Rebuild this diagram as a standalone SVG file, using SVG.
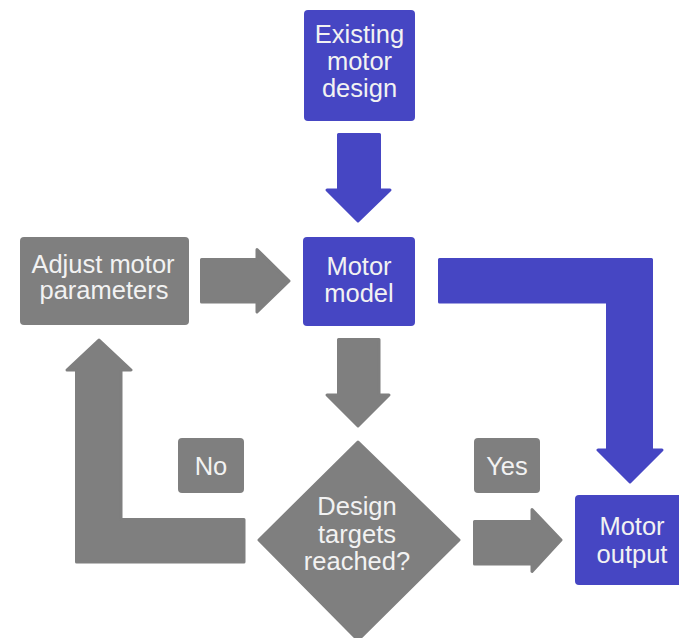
<svg xmlns="http://www.w3.org/2000/svg" width="679" height="638" viewBox="0 0 679 638">
  <style>
    .blue { fill: #4646c3; }
    .grey { fill: #7f7f7f; }
    .soft { stroke-width: 3; stroke-linejoin: round; }
    .blue.soft { stroke: #4646c3; }
    .grey.soft { stroke: #7f7f7f; }
    text { font-family: "Liberation Sans", Arial, sans-serif; font-size: 25.5px; fill: #f2f2f2; text-anchor: middle; }
  </style>
  <rect width="679" height="638" fill="#ffffff"/>

  <!-- connectors -->
  <g id="connectors">
    <!-- existing design -> model -->
    <path class="blue soft" d="M338.5,134.5 H379.5 V190 H390 L358,221 L327,190 H338.5 Z"/>
    <!-- adjust -> model -->
    <path class="grey soft" d="M201.5,259.5 H257 V249.5 L289,281 L257,312 V302 H201.5 Z"/>
    <!-- model -> output (L-shaped) -->
    <path class="blue soft" d="M439.5,259.5 H651.5 V450 H662 L630,482 L598,450 H607.5 V302 H439.5 Z"/>
    <!-- model -> decision -->
    <path class="grey soft" d="M338.5,339.5 H379 V395 H389 L358,426 L327,395 H338.5 Z"/>
    <!-- decision -> adjust (No, L-shaped) -->
    <path class="grey soft" d="M244,519.5 V562 H76.5 V370 H67 L99,340 L131,370 H121 V519.5 Z"/>
    <!-- decision -> output (Yes) -->
    <path class="grey soft" d="M474.5,521.5 H532 V509.5 L561,540 L532,571.5 V564 H474.5 Z"/>
  </g>

  <g id="existing-design">
    <rect class="blue" x="304" y="10" width="111" height="111" rx="4"/>
    <text x="359.5" y="43">Existing</text>
    <text x="359.5" y="70">motor</text>
    <text x="359.5" y="97">design</text>
  </g>

  <g id="adjust-parameters">
    <rect class="grey" x="20" y="237" width="169" height="88" rx="4"/>
    <text x="103" y="273">Adjust motor</text>
    <text x="104" y="299">parameters</text>
  </g>

  <g id="motor-model">
    <rect class="blue" x="303" y="237" width="112" height="89" rx="4"/>
    <text x="359" y="275">Motor</text>
    <text x="359" y="302">model</text>
  </g>

  <g id="decision">
    <path class="grey soft" d="M358,442 L459,540 L358,640 L259,540 Z"/>
    <text x="357" y="515">Design</text>
    <text x="357" y="543">targets</text>
    <text x="357" y="570">reached?</text>
  </g>

  <g id="label-no">
    <rect class="grey" x="178" y="438" width="66" height="55" rx="4"/>
    <text x="211" y="475">No</text>
  </g>

  <g id="label-yes">
    <rect class="grey" x="474" y="438" width="66" height="55" rx="4"/>
    <text x="507" y="475">Yes</text>
  </g>

  <g id="motor-output">
    <rect class="blue" x="575" y="495" width="114" height="90" rx="4"/>
    <text x="632" y="535">Motor</text>
    <text x="632" y="563">output</text>
  </g>
</svg>
